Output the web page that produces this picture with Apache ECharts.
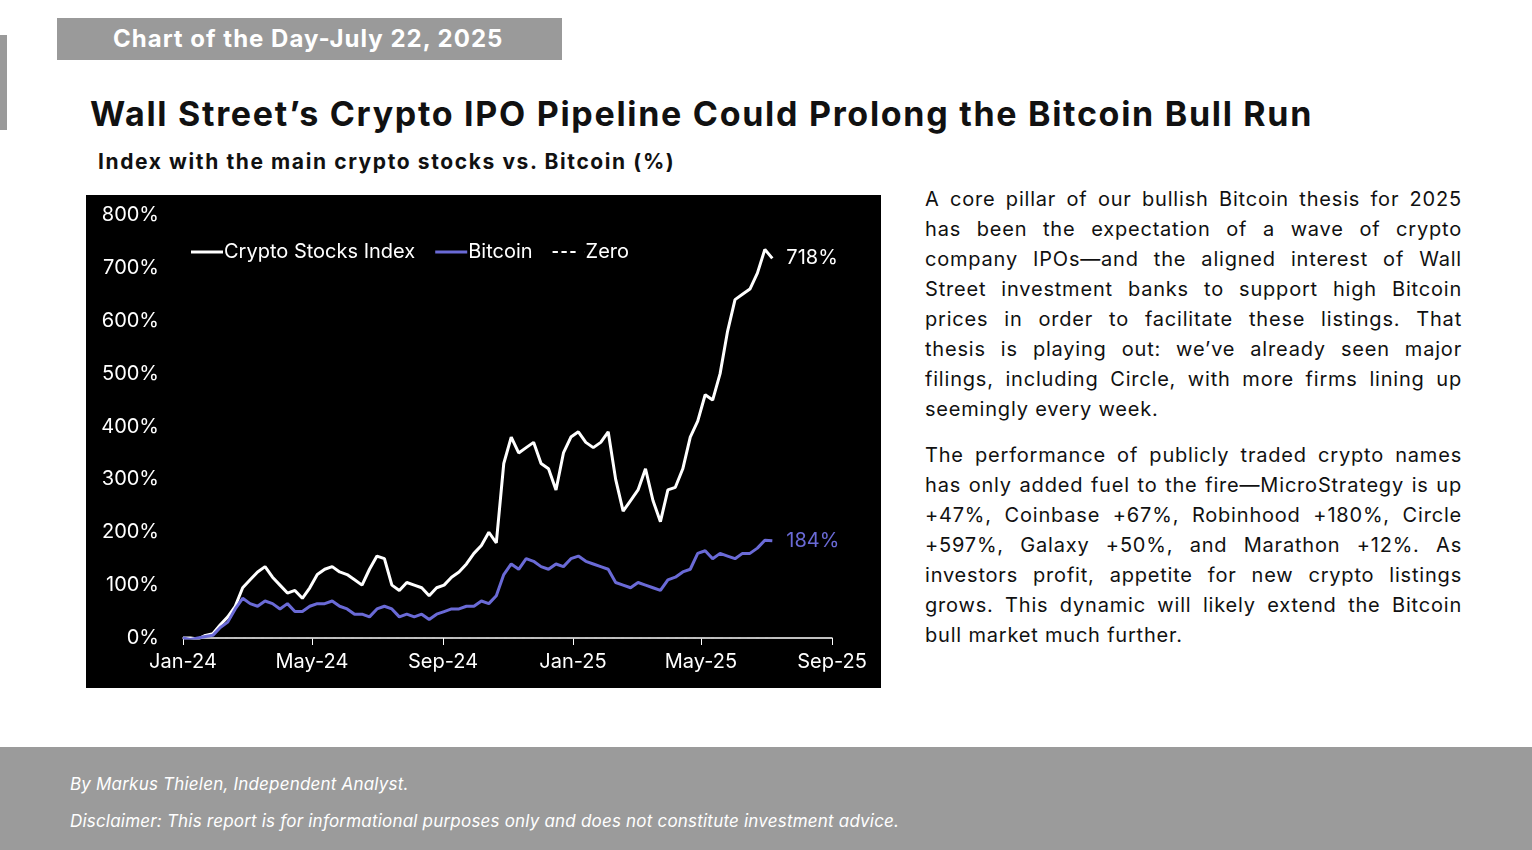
<!DOCTYPE html>
<html>
<head>
<meta charset="utf-8">
<script src="https://cdn.jsdelivr.net/npm/echarts@6/dist/echarts.min.js"></script>
<style>
  body { margin: 0; width: 1532px; height: 850px; position: relative; background: #fff; font-family: Inter, "Open Sans", sans-serif; overflow: hidden; }
  #badge { position: absolute; left: 57px; top: 18px; width: 505px; height: 42px; background: #9a9a9a; color: #fff; font-weight: 700; font-size: 24px; line-height: 42px; text-indent: 56px; letter-spacing: 1px; }
  #bar { position: absolute; left: 0; top: 35px; width: 7px; height: 95px; background: #9a9a9a; }
  #title { position: absolute; left: 90px; top: 93px; font-size: 34px; font-weight: 700; color: #111; letter-spacing: 1.7px; }
  #sub { position: absolute; left: 98px; top: 149px; font-size: 21px; font-weight: 700; color: #111; letter-spacing: 1.6px; }
  #chart { position: absolute; left: 86px; top: 195px; width: 795px; height: 493px; background: #000; }
  #text { position: absolute; left: 925px; top: 184px; width: 537px; font-size: 20px; line-height: 30px; color: #111; text-align: justify; letter-spacing: 0.8px; }
  #text p { margin: 0 0 16px 0; }
  #foot { position: absolute; left: 0; top: 747px; width: 1532px; height: 103px; background: #9b9b9b; color: #fff; font-style: italic; font-size: 17px; letter-spacing: 0.2px; }
  #foot div { position: absolute; left: 70px; }
</style>
</head>
<body>
<div id="bar"></div>
<div id="badge">Chart of the Day-July 22, 2025</div>
<div id="title">Wall Street’s Crypto IPO Pipeline Could Prolong the Bitcoin Bull Run</div>
<div id="sub">Index with the main crypto stocks vs. Bitcoin (%)</div>
<div id="chart"></div>
<div id="text">
<p>A core pillar of our bullish Bitcoin thesis for 2025 has been the expectation of a wave of crypto company IPOs—and the aligned interest of Wall Street investment banks to support high Bitcoin prices in order to facilitate these listings. That thesis is playing out: we’ve already seen major filings, including Circle, with more firms lining up seemingly every week.</p>
<p>The performance of publicly traded crypto names has only added fuel to the fire—MicroStrategy is up +47%, Coinbase +67%, Robinhood +180%, Circle +597%, Galaxy +50%, and Marathon +12%. As investors profit, appetite for new crypto listings grows. This dynamic will likely extend the Bitcoin bull market much further.</p>
</div>
<div id="foot">
  <div style="top:27px">By Markus Thielen, Independent Analyst.</div>
  <div style="top:64px">Disclaimer: This report is for informational purposes only and does not constitute investment advice.</div>
</div>
<script>
// weekly readings starting 2024-01-01
const cryptoIndex = [0, 0, -2, 5, 8, 25, 40, 60, 95, 110, 125, 135, 115, 100, 85, 90, 75, 95, 120, 130,
  135, 125, 120, 110, 100, 130, 155, 150, 100, 90, 105, 100, 95, 80, 95, 100, 115, 125, 140, 160,
  175, 200, 180, 330, 380, 350, 360, 370, 330, 320, 280, 350, 380, 390, 370, 360, 370, 390, 300, 240,
  260, 280, 320, 260, 220, 280, 285, 320, 380, 410, 460, 450, 500, 580, 640, 650, 660, 690, 735, 718];
const bitcoin = [0, -3, 0, 3, 5, 20, 30, 55, 75, 65, 60, 70, 65, 55, 65, 50, 50, 60, 65, 65,
  70, 60, 55, 45, 45, 40, 55, 60, 55, 40, 45, 40, 45, 35, 45, 50, 55, 55, 60, 60,
  70, 65, 80, 120, 140, 130, 150, 145, 135, 130, 140, 135, 150, 155, 145, 140, 135, 130, 105, 100,
  95, 105, 100, 95, 90, 110, 115, 125, 130, 160, 165, 150, 160, 155, 150, 160, 160, 170, 185, 184];
// tick positions in days since 2024-01-01
const xTickDays = [0, 121, 244, 366, 486, 609];
const xTickLabels = ["Jan-24", "May-24", "Sep-24", "Jan-25", "May-25", "Sep-25"];

const days = cryptoIndex.map((v, i) => i * 7);

const chart = echarts.init(document.getElementById("chart"));
const blue = "#6a6ad6";
chart.setOption({
  backgroundColor: "#000",
  textStyle: { fontFamily: "Inter" },
  animation: false,
  grid: { left: 97, right: 49, top: 20, bottom: 50 },
  legend: {
    left: 100, top: 42,
    itemGap: 20, itemWidth: 32, itemHeight: 3,
    textStyle: { color: "#fff", fontSize: 20, padding: [0, 0, 0, -4] },
    data: [
      { name: "Crypto Stocks Index", icon: "rect" },
      { name: "Bitcoin", icon: "rect" },
      { name: "Zero", icon: "path://M0,0h6v2h-6z M10,0h6v2h-6z M20,0h6v2h-6z M36,0h0.1v2h-0.1z", itemStyle: { color: "#fff" } }
    ]
  },
  xAxis: {
    type: "value",
    min: xTickDays[0], max: xTickDays[xTickDays.length - 1],
    axisLine: { lineStyle: { color: "#fff", width: 1.5 } },
    axisTick: { show: true, length: 7, lineStyle: { color: "#fff" }, customValues: xTickDays },
    splitLine: { show: false },
    axisLabel: {
      color: "#fff", fontSize: 20, margin: 14, customValues: xTickDays,
      formatter: v => xTickLabels[xTickDays.indexOf(v)] || ""
    }
  },
  yAxis: {
    type: "value", min: 0, max: 800, interval: 100,
    axisLine: { show: false }, axisTick: { show: false },
    splitLine: { show: false },
    axisLabel: { color: "#fff", fontSize: 20, margin: 24, formatter: v => v + "%" }
  },
  series: [
    {
      name: "Crypto Stocks Index", type: "line", symbol: "none", color: "#fff",
      lineStyle: { width: 3 }, data: days.map((d, i) => [d, cryptoIndex[i]]),
      endLabel: { show: true, color: "#fff", fontSize: 20, formatter: "718%", offset: [6, 0] }
    },
    {
      name: "Bitcoin", type: "line", symbol: "none", color: blue,
      lineStyle: { width: 3 }, data: days.map((d, i) => [d, bitcoin[i]]),
      endLabel: { show: true, color: blue, fontSize: 20, formatter: "184%", offset: [6, 0] }
    },
    {
      name: "Zero", type: "line", symbol: "none", color: "#bbb", z: 1,
      lineStyle: { width: 1.5, type: "dashed" },
      data: [[days[0], 0], [days[days.length - 1], 0]]
    }
  ]
});
</script>
</body>
</html>
